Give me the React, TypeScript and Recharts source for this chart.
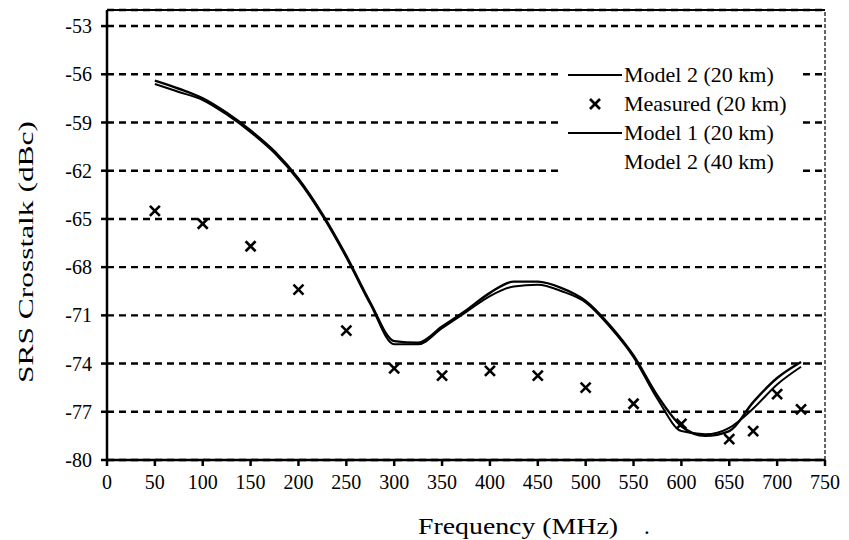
import React from 'react';
import {
  ComposedChart,
  Line,
  Scatter,
  XAxis,
  YAxis,
  CartesianGrid,
  ReferenceLine,
  Legend,
  Label,
} from 'recharts';

const freqTicks = [0, 50, 100, 150, 200, 250, 300, 350, 400, 450, 500, 550, 600, 650, 700, 750];
const dbTicks = [-80, -77, -74, -71, -68, -65, -62, -59, -56, -53];

const modelFreqs = [
  50, 75, 100, 125, 150, 175, 200, 225, 250, 275, 300, 325, 350, 375,
  400, 425, 450, 475, 500, 525, 550, 575, 600, 625, 650, 675, 700, 725,
];
const model1Values = [
  -56.4, -56.9, -57.5, -58.4, -59.5, -60.8, -62.5, -64.7, -67.3, -70.2, -72.6, -72.7, -71.7, -70.7,
  -69.6, -68.9, -68.9, -69.3, -70.1, -71.6, -73.5, -76.0, -77.9, -78.5, -78.2, -76.4, -74.9, -73.9,
];
const model2Values = [
  -56.6, -57.1, -57.6, -58.5, -59.6, -60.9, -62.6, -64.8, -67.4, -70.3, -72.8, -72.8, -71.8, -70.8,
  -69.8, -69.2, -69.1, -69.5, -70.2, -71.7, -73.6, -76.2, -78.2, -78.4, -78.0, -76.8, -75.3, -74.2,
];

const measuredFreqs = [50, 100, 150, 200, 250, 300, 350, 400, 450, 500, 550, 600, 650, 675, 700, 725];
const measuredValues = [
  -64.5, -65.3, -66.7, -69.4, -71.95, -74.3, -74.75, -74.45, -74.75, -75.5, -76.5, -77.75, -78.7, -78.2, -75.9, -76.85,
];

const legendItems = [
  { name: 'Model 2 (20 km)', mark: 'line' },
  { name: 'Measured (20 km)', mark: 'cross' },
  { name: 'Model 1 (20 km)', mark: 'line' },
  { name: 'Model 2 (40 km)', mark: 'none' },
];

const model1 = modelFreqs.map((f, i) => ({ f, v: model1Values[i] }));
const model2 = modelFreqs.map((f, i) => ({ f, v: model2Values[i] }));
const measured = measuredFreqs.map((f, i) => ({ f, v: measuredValues[i] }));

const FONT = '"Liberation Serif", "Times New Roman", serif';

function Cross(props: any) {
  const { cx, cy } = props;
  const s = 5;
  return (
    <g stroke="#000" strokeWidth={2.6}>
      <line x1={cx - s} y1={cy - s} x2={cx + s} y2={cy + s} />
      <line x1={cx - s} y1={cy + s} x2={cx + s} y2={cy - s} />
    </g>
  );
}

function XTick(props: any) {
  const { x, y, payload } = props;
  return (
    <text x={x} y={y + 15} textAnchor="middle" fontFamily={FONT} fontSize={20} fill="#000">
      {payload.value}
    </text>
  );
}

function YTick(props: any) {
  const { x, y, payload } = props;
  return (
    <text x={x + 2} y={y + 7} textAnchor="end" fontFamily={FONT} fontSize={20} fill="#000">
      {payload.value}
    </text>
  );
}

function LegendBox() {
  return (
    <div
      style={{
        background: '#fff',
        width: 236,
        padding: '2px 0',
        fontFamily: FONT,
        fontSize: 22,
        color: '#000',
        textAlign: 'left',
      }}
    >
      {legendItems.map((it) => (
        <div key={it.name} style={{ display: 'flex', alignItems: 'center', height: 29 }}>
          <svg width={62} height={29} style={{ flex: 'none' }}>
            {it.mark === 'line' && <line x1={6} y1={15} x2={60} y2={15} stroke="#000" strokeWidth={2} />}
            {it.mark === 'cross' && <Cross cx={33} cy={15} />}
          </svg>
          <span style={{ whiteSpace: 'nowrap' }}>{it.name}</span>
        </div>
      ))}
    </div>
  );
}

export default function App() {
  return (
    <div style={{ position: 'absolute', left: 0, top: 0, background: '#fff', fontFamily: FONT }}>
      <ComposedChart
        width={849}
        height={540}
        margin={{ top: 10, right: 24, bottom: 0, left: 0 }}
        style={{ fontFamily: FONT }}
      >
        <CartesianGrid
          horizontal
          vertical={false}
          stroke="#000"
          strokeWidth={2.4}
          strokeDasharray="7 5"
        />
        <XAxis
          dataKey="f"
          type="number"
          domain={[0, 750]}
          ticks={freqTicks}
          interval={0}
          height={80}
          stroke="#000"
          strokeWidth={2.5}
          tickSize={6}
          tickMargin={8}
          tick={<XTick />}
        >
          <Label
            content={(p: any) => {
              const vb = p.viewBox;
              return (
                <g>
                  <text
                    x={418}
                    y={vb.y + 74}
                    textLength={200}
                    lengthAdjust="spacingAndGlyphs"
                    fontFamily={FONT}
                    fontSize={23}
                    fill="#000"
                  >
                    Frequency (MHz)
                  </text>
                  <text x={644} y={vb.y + 74} fontFamily={FONT} fontSize={23} fill="#000">
                    .
                  </text>
                </g>
              );
            }}
          />
        </XAxis>
        <YAxis
          type="number"
          domain={[-80, -52]}
          ticks={dbTicks}
          interval={0}
          width={107}
          stroke="#000"
          strokeWidth={2.5}
          tickSize={6}
          tickMargin={11}
          tick={<YTick />}
        >
          <Label
            content={() => (
              <text
                x={0}
                y={0}
                transform="translate(33, 252) rotate(-90)"
                textAnchor="middle"
                textLength={262}
                lengthAdjust="spacingAndGlyphs"
                fontFamily={FONT}
                fontSize={22}
                fill="#000"
              >
                SRS Crosstalk (dBc)
              </text>
            )}
          />
        </YAxis>
        <ReferenceLine y={-52} stroke="#000" strokeWidth={2} />
        <ReferenceLine x={750} stroke="#000" strokeWidth={1.2} strokeDasharray="4 2" />
        <Legend
          layout="horizontal"
          verticalAlign="middle"
          align="center"
          wrapperStyle={{ top: 58, left: 562, width: 236 }}
          content={() => <LegendBox />}
        />
        <Line
          data={model2}
          dataKey="v"
          type="monotone"
          stroke="#000"
          strokeWidth={2}
          dot={false}
          isAnimationActive={false}
        />
        <Line
          data={model1}
          dataKey="v"
          type="monotone"
          stroke="#000"
          strokeWidth={2.4}
          dot={false}
          isAnimationActive={false}
        />
        <Scatter
          data={measured}
          dataKey="v"
          shape={<Cross />}
          isAnimationActive={false}
        />
      </ComposedChart>
    </div>
  );
}
